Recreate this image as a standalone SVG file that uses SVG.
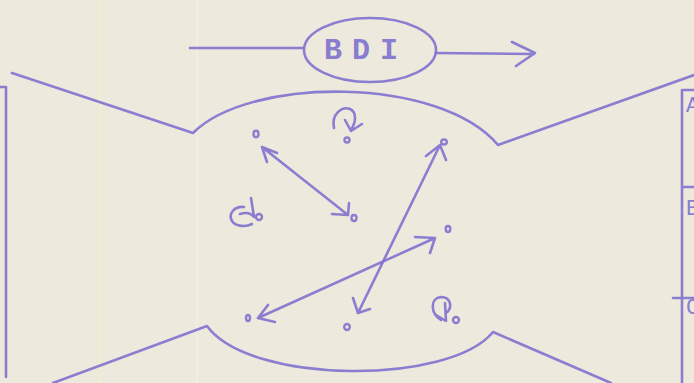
<svg xmlns="http://www.w3.org/2000/svg" width="694" height="383" viewBox="0 0 694 383">
<style>
.ink{fill:none;stroke:#7f72cf;stroke-width:2.6;stroke-linecap:round;stroke-linejoin:round;opacity:0.9}
.dot{fill:none;stroke:#7f72cf;stroke-width:2.4;opacity:0.9}
.lbl{font-family:"Liberation Mono","DejaVu Sans Mono",monospace;fill:#7f72cf;opacity:0.9}
</style>
<rect width="694" height="383" fill="#ede9dd"/>
<line x1="100" y1="0" x2="100" y2="383" stroke="#eef0c6" stroke-width="1.5"/>
<line x1="197" y1="0" x2="197" y2="383" stroke="#f1eee2" stroke-width="1.5"/>

<g id="bdi">
<ellipse class="ink" cx="370" cy="50" rx="66" ry="32"/>
<text class="lbl" x="333 361 389" y="59" font-size="30" font-weight="bold" text-anchor="middle">BDI</text>
</g>

<g id="left-box">
<path class="ink" d="M0,87 H6 V377"/>
</g>

<g id="right-box">
<path class="ink" d="M694,90 H682 V383 M682,187 H694 M673,298 H694"/>
<text class="lbl" x="686" y="112" font-size="22">A</text>
<text class="lbl" x="686" y="215" font-size="22">B</text>
<text class="lbl" x="686" y="314" font-size="22">C</text>
</g>

<g id="region">
<path class="ink" d="M12,73 L193,133 C250,76 440,76 498,145 L694,75"/>
<path class="ink" d="M53,383 L207,326 C250,385 450,385 493,332 L611,383"/>
</g>

<g id="points">
<ellipse class="dot" cx="256" cy="134" rx="2.5" ry="3.2"/>
<ellipse class="dot" cx="354" cy="218" rx="2.5" ry="3"/>
<ellipse class="dot" cx="444" cy="142" rx="2.8" ry="2.5"/>
<ellipse class="dot" cx="448" cy="229" rx="2.3" ry="3"/>
<ellipse class="dot" cx="248" cy="318" rx="2" ry="3"/>
<ellipse class="dot" cx="347" cy="327" rx="2.8" ry="3"/>
</g>

<g id="symbols">
<path class="ink" d="M334,128 C331,114 342,106 350,109 C357,112 356,122 351,130 M345,120 L351,131 L362,124"/>
<ellipse class="dot" cx="347" cy="140" rx="2.5" ry="2.5"/>
<path class="ink" d="M244,207 C234,206 228,214 232,221 C236,227 246,227 252,224 M240,214 C246,212 251,213 254,217 M251,198 L254,217"/>
<ellipse class="dot" cx="259" cy="217" rx="3" ry="3"/>
<path class="ink" d="M441,320 C430,313 430,298 441,297 C451,297 453,308 446,313 M445,303 L446,321 M436,315 L446,321"/>
<ellipse class="dot" cx="456" cy="320" rx="3" ry="3"/>
</g>

<g id="connectors">
<path class="ink" d="M190,48 H303"/>
<path class="ink" d="M436,53 L534,54 M512,42 L535,53 L516,66"/>
<path class="ink" d="M262,147 L348,215 M262,147 L267,162 M262,147 L277,153 M348,215 L349,203 M348,215 L332,214"/>
<path class="ink" d="M440,145 L358,313 M440,145 L426,156 M440,145 L446,160 M358,313 L353,298 M358,313 L370,309"/>
<path class="ink" d="M258,318 L435,238 M258,318 L268,305 M258,318 L275,322 M435,238 L415,237 M435,238 L430,253"/>
</g>
</svg>
